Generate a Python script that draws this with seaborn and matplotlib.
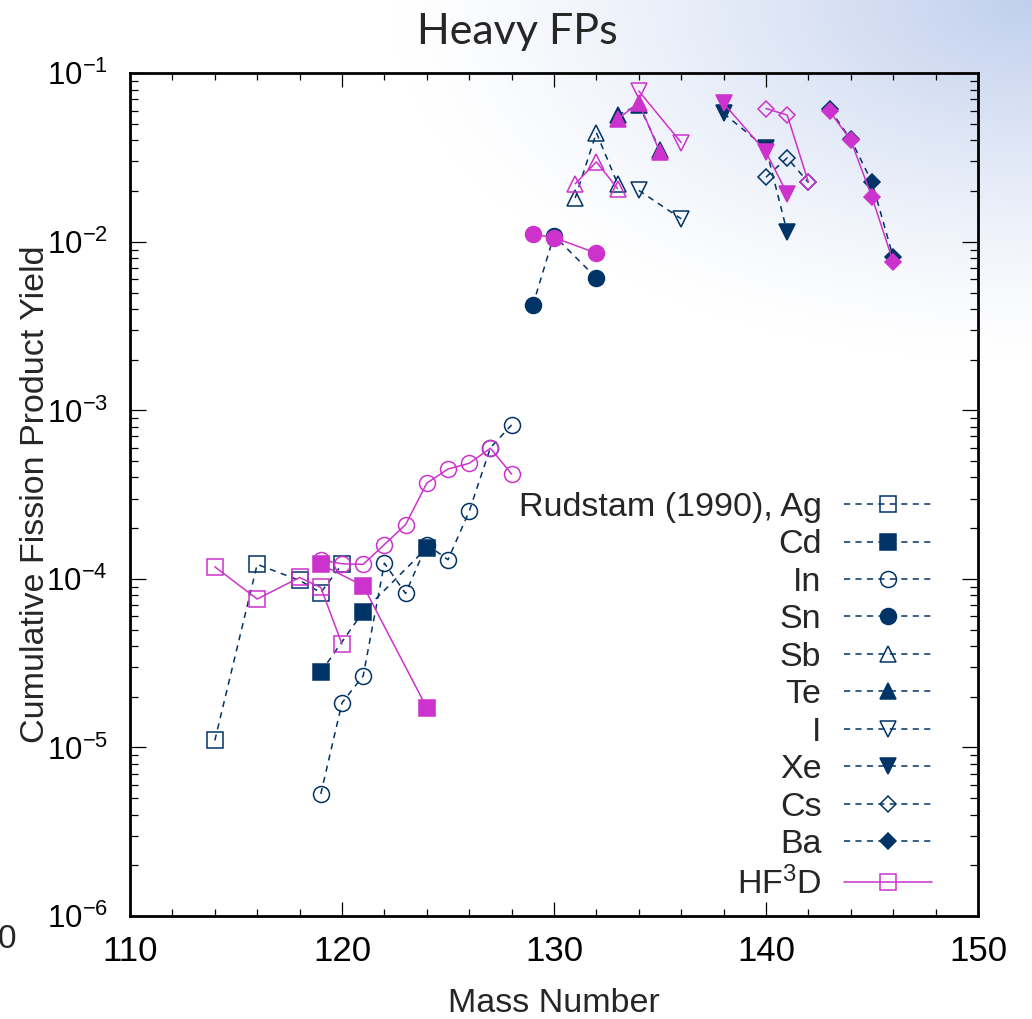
import numpy as np
import matplotlib
matplotlib.use("Agg")
import matplotlib.pyplot as plt
import seaborn as sns

# ---------------- data ----------------
elements = ["Ag", "Cd", "In", "Sn", "Sb", "Te", "I", "Xe", "Cs", "Ba"]

rud_mass = {
    "Ag": [114, 116, 118, 119, 120],
    "Cd": [119, 121, 124],
    "In": [119, 120, 121, 122, 123, 124, 125, 126, 127, 128],
    "Sn": [129, 130, 132],
    "Sb": [131, 132, 133],
    "Te": [133, 134, 135],
    "I":  [134, 136],
    "Xe": [138, 140, 141],
    "Cs": [140, 141, 142],
    "Ba": [143, 144, 145, 146],
}
rud_yield = {
    "Ag": [1.1e-5, 1.22e-4, 9.8e-5, 8.3e-5, 1.22e-4],
    "Cd": [2.8e-5, 6.4e-5, 1.53e-4],
    "In": [5.3e-6, 1.84e-5, 2.66e-5, 1.24e-4, 8.2e-5, 1.6e-4, 1.3e-4, 2.52e-4, 6.0e-4, 8.2e-4],
    "Sn": [4.2e-3, 1.09e-2, 6.1e-3],
    "Sb": [1.82e-2, 4.44e-2, 2.21e-2],
    "Te": [5.65e-2, 6.5e-2, 3.5e-2],
    "I":  [2.02e-2, 1.37e-2],
    "Xe": [5.78e-2, 3.6e-2, 1.14e-2],
    "Cs": [2.42e-2, 3.15e-2, 2.25e-2],
    "Ba": [6.12e-2, 4.05e-2, 2.26e-2, 8.1e-3],
}

hf_mass = rud_mass
hf_yield = {
    "Ag": [1.18e-4, 7.6e-5, 1.02e-4, 8.9e-5, 4.1e-5],
    "Cd": [1.22e-4, 9.1e-5, 1.72e-5],
    "In": [1.3e-4, 1.23e-4, 1.22e-4, 1.6e-4, 2.1e-4, 3.7e-4, 4.49e-4, 4.85e-4, 5.96e-4, 4.19e-4],
    "Sn": [1.11e-2, 1.06e-2, 8.57e-3],
    "Sb": [2.21e-2, 2.98e-2, 2.07e-2],
    "Te": [5.34e-2, 6.7e-2, 3.4e-2],
    "I":  [7.85e-2, 3.88e-2],
    "Xe": [6.63e-2, 3.41e-2, 1.93e-2],
    "Cs": [6.18e-2, 5.65e-2, 2.26e-2],
    "Ba": [5.96e-2, 4.0e-2, 1.84e-2, 7.6e-3],
}

legend_labels = ["Rudstam (1990), Ag", "Cd", "In", "Sn", "Sb", "Te", "I", "Xe", "Cs", "Ba"]
hf_label = r"HF$^{3}$D"

x_ticks = [110, 120, 130, 140, 150]
y_decades = [1e-6, 1e-5, 1e-4, 1e-3, 1e-2, 1e-1]

# ---------------- style ----------------
sns.set_style("ticks")
plt.rcParams["font.family"] = ["Liberation Sans", "DejaVu Sans"]
plt.rcParams["mathtext.fontset"] = "custom"
plt.rcParams["mathtext.rm"] = "Liberation Sans"
plt.rcParams["mathtext.it"] = "Liberation Sans:italic"
plt.rcParams["mathtext.bf"] = "Liberation Sans:bold"
plt.rcParams["axes.unicode_minus"] = False

NAVY = "#003366"
MAG = "#CC33CC"

markers = {"Ag": ("s", False), "Cd": ("s", True), "In": ("o", False), "Sn": ("o", True),
           "Sb": ("^", False), "Te": ("^", True), "I": ("v", False), "Xe": ("v", True),
           "Cs": ("D", False), "Ba": ("D", True)}
msize = {"s": 11.5, "o": 11.5, "^": 12, "v": 12, "D": 8.2}

W, H = 1032, 1019
fig = plt.figure(figsize=(W / 100, H / 100), dpi=100)

# slide background gradient (top-right corner)
bg = fig.add_axes([0, 0, 1, 1], zorder=-10)
yy, xx = np.mgrid[0:H, 0:W]
d = np.sqrt(((W - xx) / 640.0) ** 2 + (yy / 360.0) ** 2)
t = np.clip(1 - d, 0, 1) ** 1.3
c0 = np.array([1.0, 1.0, 1.0])
c1 = np.array([192, 207, 237]) / 255.0
img = c0[None, None, :] * (1 - t[..., None]) + c1[None, None, :] * t[..., None]
bg.imshow(img, aspect="auto", extent=[0, 1, 0, 1])
bg.axis("off")

L, R, T, B = 130, 978, 73.3, 916
ax = fig.add_axes([L / W, 1 - B / H, (R - L) / W, (B - T) / H])
ax.set_facecolor("none")

dash = (0, (4, 3.5))
for i, el in enumerate(elements):
    mk, filled = markers[el]
    sns.lineplot(x=rud_mass[el], y=rud_yield[el], ax=ax, color=NAVY, linewidth=1.1,
                 linestyle=dash, marker=mk, markersize=msize[mk],
                 markerfacecolor=NAVY if filled else "none", markeredgecolor=NAVY,
                 markeredgewidth=1.1, label=legend_labels[i], legend=False,
                 errorbar=None, sort=False)
for i, el in enumerate(elements):
    mk, filled = markers[el]
    sns.lineplot(x=hf_mass[el], y=hf_yield[el], ax=ax, color=MAG, linewidth=1.1,
                 linestyle="-", marker=mk, markersize=msize[mk],
                 markerfacecolor=MAG if filled else "none", markeredgecolor=MAG,
                 markeredgewidth=1.1, label=hf_label if i == 0 else "_nolegend_",
                 legend=False, errorbar=None, sort=False)

ax.set_yscale("log")
ax.set_xlim(110, 150)
ax.set_ylim(1e-6, 1e-1)
ax.set_xticks(x_ticks)
ax.set_xticks(np.arange(110, 151, 2), minor=True)
ax.set_yticks(y_decades)
ax.yaxis.set_minor_locator(matplotlib.ticker.LogLocator(base=10, subs=np.arange(2, 10)))
ax.yaxis.set_minor_formatter(matplotlib.ticker.NullFormatter())

ax.tick_params(which="both", direction="in", top=True, right=True, colors="black")
ax.tick_params(axis="y", which="major", length=11.5, width=0.9, pad=16, labelsize=22.5)
ax.tick_params(axis="y", which="minor", length=5.8, width=0.9)
ax.tick_params(axis="x", which="major", length=10, width=0.9, pad=14, labelsize=25)
ax.tick_params(axis="x", which="minor", length=5, width=0.9)
for s in ax.spines.values():
    s.set_linewidth(2.0)
    s.set_color("black")

ax.set_xlabel("Mass Number", fontsize=24.5, labelpad=14)
ax.set_ylabel("Cumulative Fission Product Yield", fontsize=24.5)
ax.yaxis.set_label_coords((51 - L) / (R - L), 0.5)

h, l = ax.get_legend_handles_labels()
leg = ax.legend(h, l, loc="upper right", bbox_to_anchor=((932 - L) / (R - L), (B - 492) / (B - T)),
                frameon=False, markerfirst=False, fontsize=24.5, handlelength=2.6,
                handletextpad=0.65, labelspacing=0.19, borderpad=0, borderaxespad=0,
                numpoints=1)

fig.text(517 / W, 1 - 32 / H, "Heavy FPs", ha="center", va="center", fontsize=31,
         family=["Lato", "DejaVu Sans"])
fig.text(-2 / W, 1 - 940 / H, "0", ha="left", va="center", fontsize=24)

fig.savefig("out.png", dpi=100)
